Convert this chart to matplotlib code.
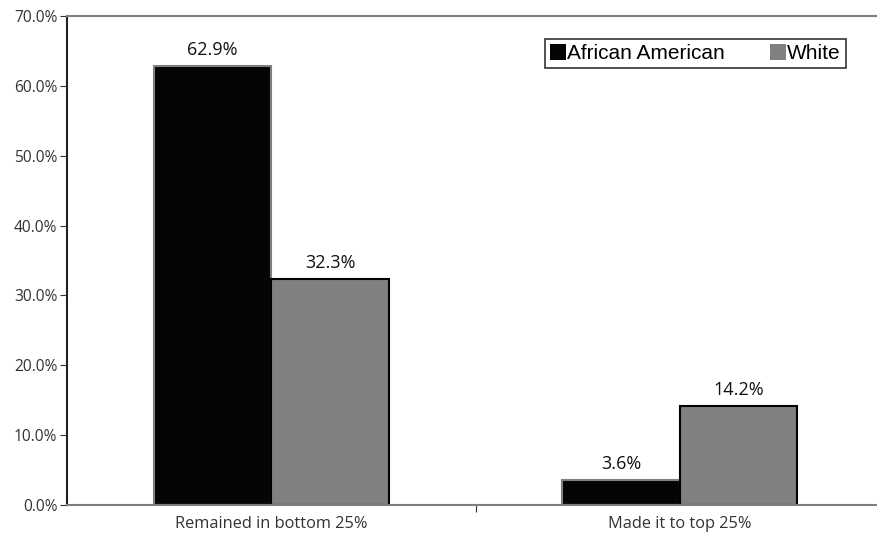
import matplotlib.pyplot as plt
import numpy as np

categories = ["Remained in bottom 25%", "Made it to top 25%"]
african_american = [62.9, 3.6]
white = [32.3, 14.2]
yticks = [0, 10, 20, 30, 40, 50, 60, 70]

fig = plt.figure(figsize=(8.78, 5.37), dpi=100)
ax = fig.add_axes([67 / 878, 32 / 537, 817 / 878, 489 / 537])

x = np.arange(len(categories))
w = 0.288
b1 = ax.bar(x - w / 2, african_american, w, color='#050505', edgecolor='#808080',
            linewidth=1.5, label='African American')
b2 = ax.bar(x + w / 2, white, w, color='#808080', edgecolor='#000000',
            linewidth=1.5, label='White')

for bars in (b1, b2):
    for r in bars:
        ax.text(r.get_x() + r.get_width() / 2, r.get_height() + 1.0,
                f"{r.get_height():.1f}%", ha='center', va='bottom',
                fontsize=13, family='Open Sans', color='#111111')

ax.set_xlim(-0.5, 1.5)
ax.set_ylim(0, 70)
ax.set_yticks(yticks)
ax.set_yticklabels([f"{v:.1f}%" for v in yticks], family='Open Sans',
                   fontsize=11.2, color='#333333')
ax.set_xticks([0.5])
ax.set_xticklabels([''])
ax.tick_params(axis='x', length=5, color='#333333')
ax.tick_params(axis='y', length=5, color='#333333', pad=2)
for i, c in enumerate(categories):
    ax.text(i, -1.6, c, ha='center', va='top', fontsize=11.8,
            family='Open Sans', color='#333333')

ax.spines['right'].set_visible(False)
ax.spines['left'].set_color('#222222')
ax.spines['left'].set_linewidth(1.5)
ax.spines['top'].set_color('#808080')
ax.spines['top'].set_linewidth(1.5)
ax.spines['bottom'].set_color('#808080')
ax.spines['bottom'].set_linewidth(1.5)

leg = ax.legend(loc='upper left', bbox_to_anchor=((545 - 67) / 817, (505 - 39) / 489),
                ncol=2, frameon=True, fancybox=False, handlelength=0.75,
                handleheight=0.75, handletextpad=0.05, columnspacing=2.2,
                borderpad=0.25, borderaxespad=0,
                prop={'family': 'Liberation Sans', 'size': 15})
leg.get_frame().set_edgecolor('black')
leg.get_frame().set_linewidth(1.2)
for h in leg.legend_handles:
    h.set_edgecolor('none')

fig.savefig('out.png', dpi=100)
